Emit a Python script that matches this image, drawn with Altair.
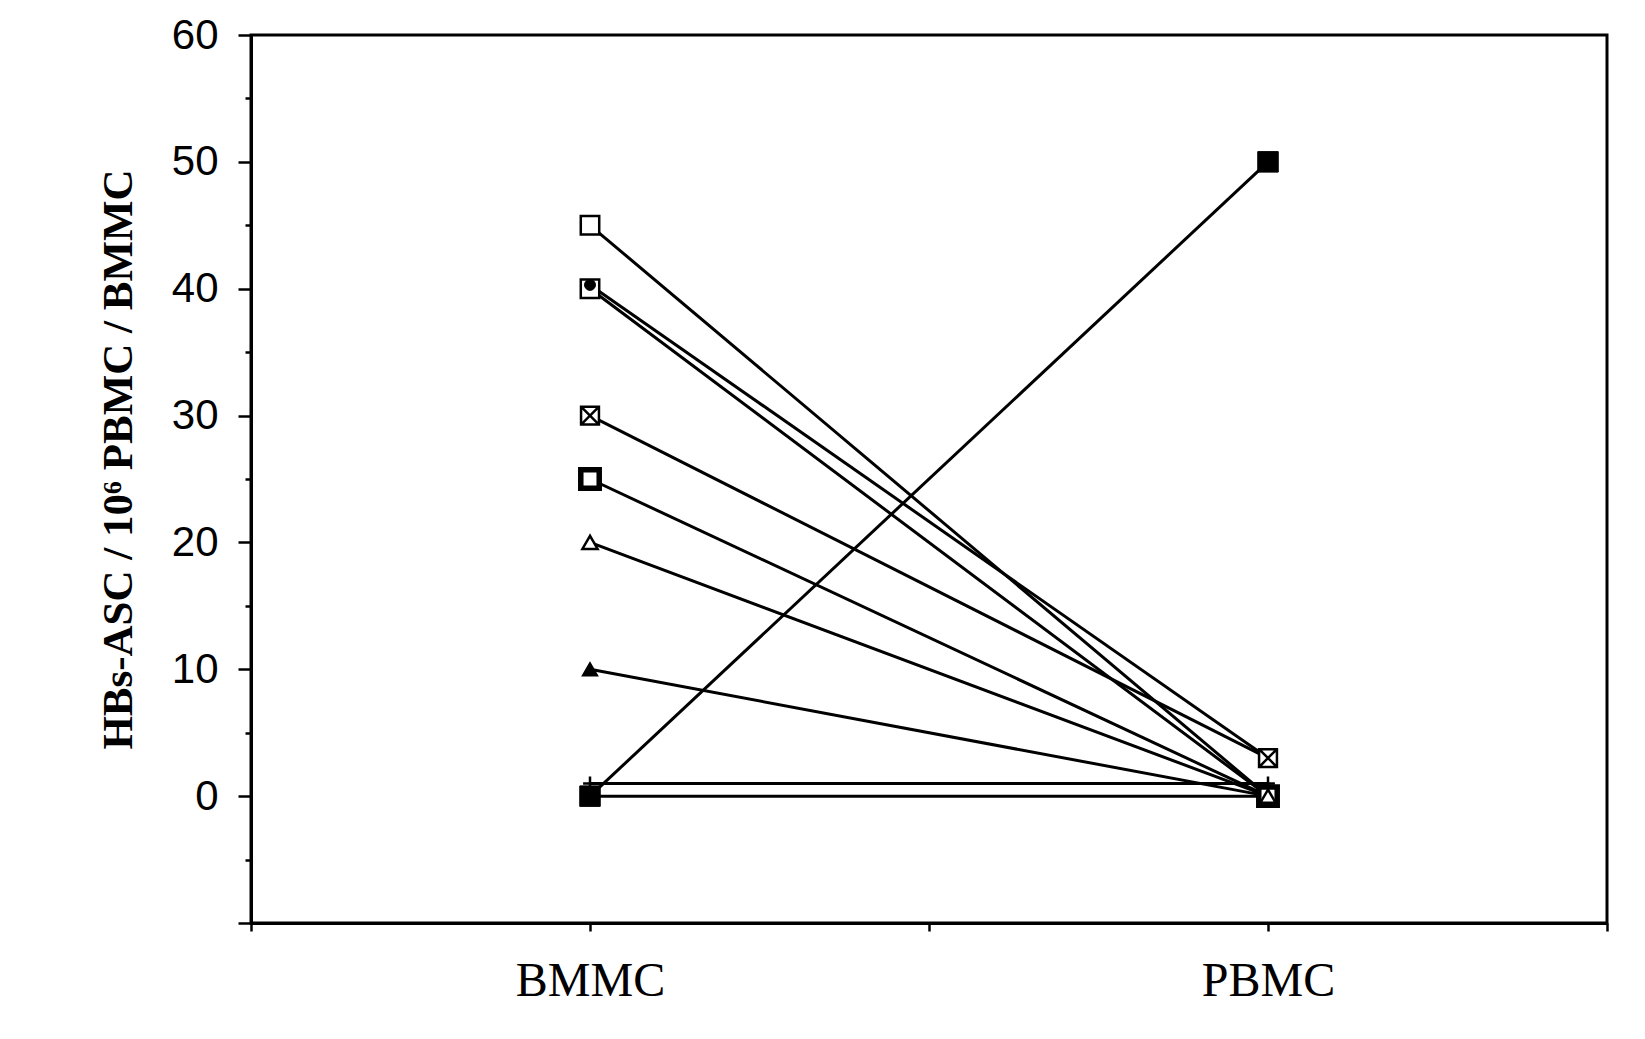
import altair as alt
import pandas as pd

# ---- data ----
categories = ["BMMC", "PBMC"]
category_pos = [1, 3]          # positions of the two groups on a 0..4 axis
series_ids = ["S1", "S2", "S3", "S4", "S5", "S6", "S7", "S8", "S9", "S10"]
bmmc_values = [45, 40.3, 40, 30, 25, 20, 10, 1, 0, 0]
pbmc_values = [0, 3, 0, 3, 0, 0, 0, 1, 50, 0]
marker_styles = ["open_square", "filled_circle", "open_square", "crossed_square",
                 "bold_square", "open_triangle", "filled_triangle", "plus",
                 "filled_square", "filled_circle"]
y_ticks = list(range(-10, 61, 5))
x_ticks = [0, 1, 2, 3, 4]

rows = []
for sid, b, p, m in zip(series_ids, bmmc_values, pbmc_values, marker_styles):
    rows.append({"series": sid, "group": categories[0], "x": category_pos[0], "value": b, "marker": m})
    rows.append({"series": sid, "group": categories[1], "x": category_pos[1], "value": p, "marker": m})
df = pd.DataFrame(rows)

x_enc = alt.X("x:Q", scale=alt.Scale(domain=[0, 4], nice=False, zero=False),
              axis=alt.Axis(values=x_ticks, title=None,
                            labelExpr="datum.value == 1 ? 'BMMC' : (datum.value == 3 ? 'PBMC' : '')",
                            labelFont="Liberation Serif", labelFontSize=48, labelColor="black",
                            labelPadding=26, tickSize=8, labelFlush=False))
y_enc = alt.Y("value:Q", scale=alt.Scale(domain=[-10, 60], nice=False, zero=False),
              axis=alt.Axis(values=y_ticks,
                            labelExpr="(datum.value % 10 == 0 && datum.value >= 0) ? datum.value : ''",
                            labelFont="Liberation Sans", labelFontSize=42, labelColor="black",
                            labelPadding=20,
                            tickSize={"condition": {"test": "datum.value % 10 == 0", "value": 13}, "value": 6},
                            title="HBs-ASC / 10⁶ PBMC / BMMC",
                            titleFont="Liberation Serif", titleFontSize=43, titleFontWeight="bold",
                            titleColor="black", titleAngle=270, titleX=-133, titleY=424,
                            titleAlign="center", titleBaseline="middle", labelFlush=False))

base = alt.Chart(df)

lines = base.mark_line(color="black", strokeWidth=3).encode(
    x=x_enc, y=y_enc, detail="series:N", order="x:Q")

SQ = "M-1,-1L1,-1L1,1L-1,1Z"
CROSSED = "M-1,-1L1,-1L1,1L-1,1Z M-1,-1L1,1 M-1,1L1,-1"
PLUS = "M-1,0L1,0 M0,-1L0,1"

def pts(style, **mark_kwargs):
    return base.transform_filter(alt.datum.marker == style).mark_point(**mark_kwargs).encode(
        x=alt.X("x:Q"), y=alt.Y("value:Q"))

layers = [
    lines,
    pts("open_square", shape=SQ, filled=True, fill="white", stroke="black", strokeWidth=2.5, size=340, opacity=1),
    pts("filled_circle", shape="circle", filled=True, fill="black", stroke="black", strokeWidth=1, size=120, opacity=1),
    pts("crossed_square", shape=CROSSED, filled=True, fill="white", stroke="black", strokeWidth=2.5, size=320, opacity=1),
    pts("filled_triangle", shape="triangle-up", filled=True, fill="black", stroke="black", strokeWidth=1.5, size=230, opacity=1),
    pts("bold_square", shape=SQ, filled=True, fill="white", stroke="black", strokeWidth=5.5, size=340, opacity=1),
    pts("open_triangle", shape="triangle-up", filled=True, fill="white", stroke="black", strokeWidth=2.5, size=230, opacity=1),
    pts("plus", shape=PLUS, filled=False, stroke="black", strokeWidth=2.5, size=190, opacity=1),
    pts("filled_square", shape=SQ, filled=True, fill="black", stroke="black", strokeWidth=1, size=420, opacity=1),
]

chart = alt.layer(*layers).properties(
    width=1356, height=888,
    autosize=alt.AutoSizeParams(type="none"),
    padding={"left": 243, "top": 27, "right": 30, "bottom": 100},
    background="white",
).configure_view(
    stroke="black", strokeWidth=3
).configure_axis(
    grid=False, domainColor="black", domainWidth=3, tickColor="black", tickWidth=2.5
)

chart.save("out.html", embed_options={"renderer": "svg", "actions": False})
